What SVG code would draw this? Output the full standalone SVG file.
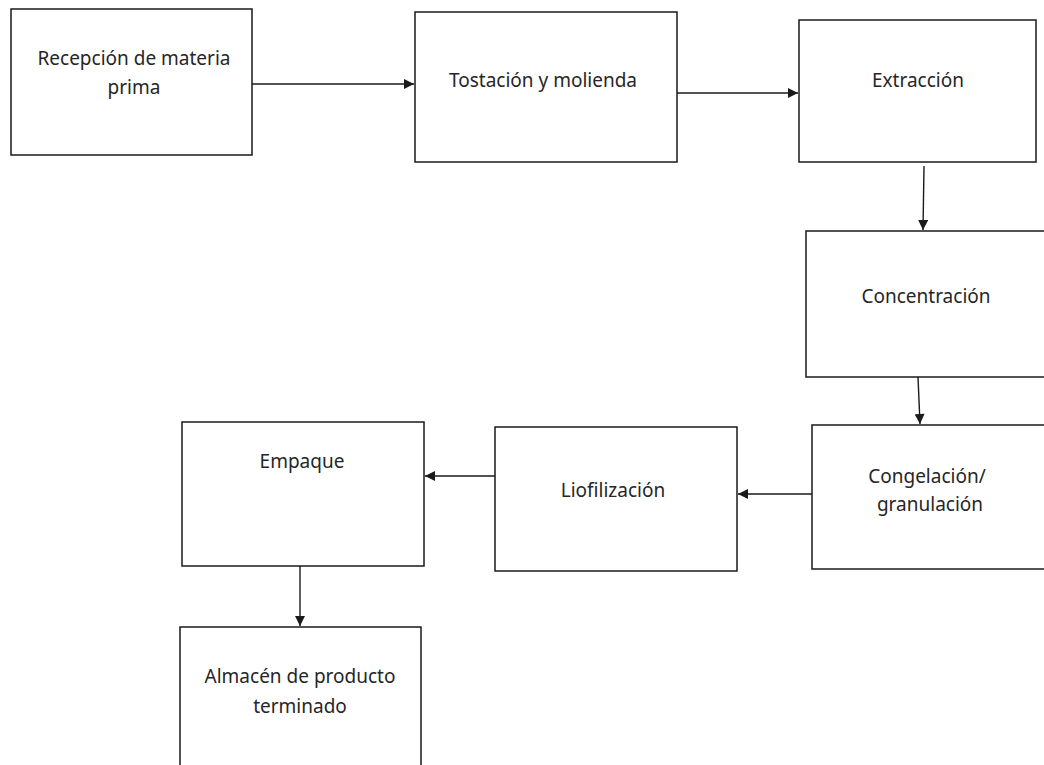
<svg xmlns="http://www.w3.org/2000/svg" width="1044" height="765" viewBox="0 0 1044 765">
<style>
.box{fill:#fff;stroke:#1a1a1a;stroke-width:1.5}
.t{font-family:"Noto Sans","Open Sans",sans-serif;font-size:19px;fill:#262626;text-anchor:middle}
.c{stroke:#1a1a1a;stroke-width:1.4;fill:none;marker-end:url(#ah)}
</style>
<defs>
<marker id="ah" viewBox="0 0 10 10" refX="10" refY="5" markerWidth="12" markerHeight="10" markerUnits="userSpaceOnUse" orient="auto">
<path d="M0,0 L10,5 L0,10 Z" fill="#1a1a1a"/>
</marker>
</defs>
<rect width="1044" height="765" fill="#fff"/>
<g id="n1"><rect class="box" x="11" y="9" width="241" height="146"/><text class="t" x="134" y="65">Recepción de materia</text><text class="t" x="134" y="94">prima</text></g>
<g id="n2"><rect class="box" x="415" y="12" width="262" height="150"/><text class="t" x="543" y="87">Tostación y molienda</text></g>
<g id="n3"><rect class="box" x="799" y="20" width="237" height="142"/><text class="t" x="918" y="87">Extracción</text></g>
<g id="n4"><rect class="box" x="806" y="231" width="240" height="146"/><text class="t" x="926" y="303">Concentración</text></g>
<g id="n5"><rect class="box" x="812" y="425" width="234" height="144"/><text class="t" x="927" y="483">Congelación/</text><text class="t" x="930" y="511">granulación</text></g>
<g id="n6"><rect class="box" x="495" y="427" width="242" height="144"/><text class="t" x="613" y="497">Liofilización</text></g>
<g id="n7"><rect class="box" x="182" y="422" width="242" height="144"/><text class="t" x="302" y="468">Empaque</text></g>
<g id="n8"><rect class="box" x="180" y="627" width="241" height="150"/><text class="t" x="300" y="683">Almacén de producto</text><text class="t" x="300" y="713">terminado</text></g>
<g id="connectors">
<line class="c" x1="252" y1="84" x2="414" y2="84"/>
<line class="c" x1="677" y1="93" x2="798" y2="93"/>
<line class="c" x1="924" y1="166" x2="923" y2="230"/>
<line class="c" x1="918" y1="377" x2="920" y2="424"/>
<line class="c" x1="812" y1="494" x2="738" y2="494"/>
<line class="c" x1="495" y1="476" x2="425" y2="476"/>
<line class="c" x1="300" y1="566" x2="300" y2="626"/>
</g>
</svg>
